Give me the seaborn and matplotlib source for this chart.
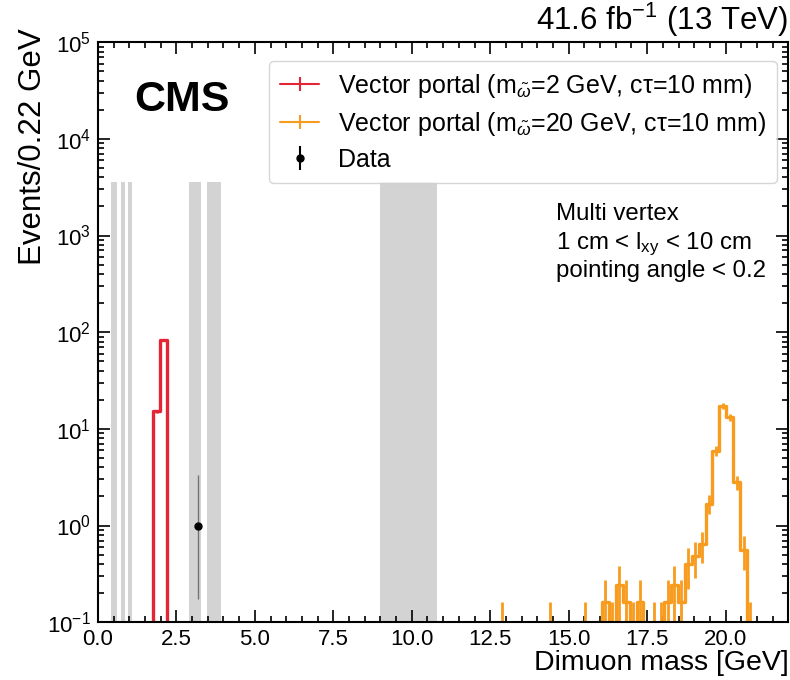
import numpy as np
import pandas as pd
import matplotlib
matplotlib.use('Agg')
import matplotlib.pyplot as plt
import seaborn as sns
from matplotlib.ticker import MultipleLocator, FormatStrFormatter, LogLocator
from matplotlib.legend_handler import HandlerErrorbar

# bin centres (GeV) and raw MC events per 0.22 GeV bin
red_mass = [1.87, 2.09]
red_events = [760, 4200]
red_weight = 0.02

orange_mass = [12.87, 14.41, 15.51, 16.17, 16.39, 16.61, 16.83, 17.05, 17.27,
               17.71, 17.93, 18.15, 18.37, 18.59, 18.81, 19.03, 19.25, 19.47,
               19.69, 19.91, 20.13, 20.35, 20.57, 20.79]
orange_events = [1, 1, 1, 2, 1, 3, 2, 1, 2,
                 1, 1, 2, 3, 2, 5, 6, 8, 21,
                 74, 215, 164, 35, 7, 1]
orange_weight = 0.08

data_mass = [3.19]
data_events = [1]
data_err_lo = [0.827]
data_err_hi = [2.30]

# masked resonance windows (GeV)
veto_lo = [0.42, 0.72, 0.96, 2.90, 3.46, 8.99]
veto_hi = [0.61, 0.86, 1.10, 3.29, 3.91, 10.80]
veto_top = 3600

red = '#e42536'
orange = '#f89c20'

sns.set_theme(style='ticks')
plt.rcParams['font.family'] = ['Liberation Sans', 'DejaVu Sans']
plt.rcParams['mathtext.fontset'] = 'custom'
plt.rcParams['mathtext.rm'] = 'Liberation Sans'
plt.rcParams['mathtext.it'] = 'Liberation Sans:italic'
plt.rcParams['mathtext.bf'] = 'Liberation Sans:bold'
for key in ['text.color', 'axes.labelcolor', 'xtick.color', 'ytick.color', 'axes.edgecolor']:
    plt.rcParams[key] = 'black'

red_df = pd.DataFrame({'mass': red_mass,
                       'val': np.array(red_events) * red_weight,
                       'err': np.sqrt(red_events) * red_weight})
orange_df = pd.DataFrame({'mass': orange_mass,
                          'val': np.array(orange_events) * orange_weight,
                          'err': np.sqrt(orange_events) * orange_weight})

fig = plt.figure(figsize=(7.9, 6.8), dpi=100)
ax = fig.add_axes([0.124, 0.085, 0.874, 0.853])

for lo, hi in zip(veto_lo, veto_hi):
    ax.fill_between([lo, hi], 1e-3, veto_top, color='#d3d3d3', lw=0, zorder=0)

sns.histplot(data=red_df, x='mass', weights='val', binwidth=0.22, binrange=(0, 22),
             element='step', fill=False, color=red, linewidth=2.4, ax=ax)
sns.histplot(data=orange_df, x='mass', weights='val', binwidth=0.22, binrange=(0, 22),
             element='step', fill=False, color=orange, linewidth=2.4, ax=ax)
ax.errorbar(red_df['mass'], red_df['val'], yerr=red_df['err'], fmt='none', ecolor=red, elinewidth=2)
ax.errorbar(orange_df['mass'], orange_df['val'], yerr=orange_df['err'], fmt='none',
            ecolor=orange, elinewidth=2)

ax.errorbar(data_mass, data_events, yerr=[data_err_lo, data_err_hi], fmt='o', color='black',
            ecolor='0.45', ms=5, elinewidth=1, zorder=5)

# legend proxies
h_red = ax.errorbar([np.nan], [np.nan], yerr=[1], fmt='-', color=red, lw=1.5)
h_orange = ax.errorbar([np.nan], [np.nan], yerr=[1], fmt='-', color=orange, lw=1.5)
h_data = ax.errorbar([np.nan], [np.nan], yerr=[1], fmt='o', color='black', ms=5, lw=1.5)
ax.legend([h_red, h_orange, h_data],
          [r'Vector portal (m$_{\tilde{\omega}}$=2 GeV, cτ=10 mm)',
           r'Vector portal (m$_{\tilde{\omega}}$=20 GeV, cτ=10 mm)',
           'Data'],
          handler_map={h_red: HandlerErrorbar(yerr_size=0.29),
                       h_orange: HandlerErrorbar(yerr_size=0.29),
                       h_data: HandlerErrorbar(yerr_size=0.47)},
          loc='upper right', bbox_to_anchor=(0.984, 0.968), borderaxespad=0,
          fontsize=18, handlelength=1.56, handletextpad=0.76, labelspacing=0.4,
          borderpad=0.45, edgecolor='0.8', fancybox=True)

ax.set_yscale('log')
ax.set_xlim(0, 22)
ax.set_ylim(0.1, 1e5)
ax.xaxis.set_major_locator(MultipleLocator(2.5))
ax.xaxis.set_minor_locator(MultipleLocator(0.5))
ax.xaxis.set_major_formatter(FormatStrFormatter('%.1f'))
ax.yaxis.set_major_locator(LogLocator(base=10, numticks=10))
ax.yaxis.set_minor_locator(LogLocator(base=10, subs=np.arange(2, 10), numticks=20))
ax.tick_params(which='both', direction='in', top=True, right=True, width=1.2, labelsize=16, pad=5)
ax.tick_params(which='major', length=8.5)
ax.tick_params(which='minor', length=4.5)
for s in ax.spines.values():
    s.set_linewidth(1.5)
    s.set_color('black')

ax.set_xlabel('Dimuon mass [GeV]', fontsize=20.5, loc='right')
ax.xaxis.set_label_coords(1.0, -0.048)
ax.set_ylabel('Events/0.22 GeV', fontsize=22.5, loc='top')
ax.yaxis.set_label_coords(-0.073, 1.024)

ax.text(0.052, 0.934, 'CMS', fontsize=31, fontweight='bold', ha='left', va='top',
        transform=ax.transAxes)
ax.text(1.0, 1.0207, r'41.6 fb$^{-1}$ (13 TeV)', fontsize=22.5, ha='right', va='baseline',
        transform=ax.transAxes)
ax.text(0.664, 0.693, 'Multi vertex', fontsize=17.3, ha='left', va='baseline', transform=ax.transAxes)
ax.text(0.664, 0.644, r'1 cm < l$_{\mathrm{xy}}$ < 10 cm', fontsize=17.3, ha='left', va='baseline',
        transform=ax.transAxes)
ax.text(0.664, 0.595, 'pointing angle < 0.2', fontsize=17.3, ha='left', va='baseline',
        transform=ax.transAxes)

fig.savefig('out.png', dpi=100)
